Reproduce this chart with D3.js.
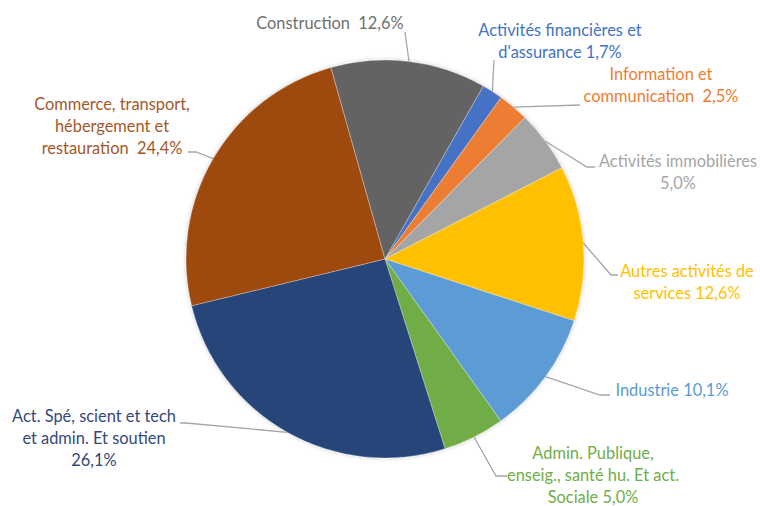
<!DOCTYPE html>
<html><head><meta charset="utf-8">
<script src="https://cdn.jsdelivr.net/npm/d3@7"></script>
<style>html,body{margin:0;padding:0;background:#fff;}svg{display:block;}</style>
</head><body>
<svg id="chart" width="760" height="506"></svg>
<script>
// ---- data ----
const categories = [
  "Activités financières et d'assurance",
  "Information et communication",
  "Activités immobilières",
  "Autres activités de services",
  "Industrie",
  "Admin. Publique, enseig., santé hu. Et act. Sociale",
  "Act. Spé, scient et tech et admin. Et soutien",
  "Commerce, transport, hébergement et restauration",
  "Construction"
];
const values = [1.7, 2.5, 5.0, 12.6, 10.1, 5.0, 26.1, 24.4, 12.6];
const labelLines = [
  ["Activités financières et", "d'assurance {v}"],
  ["Information et", "communication  {v}"],
  ["Activités immobilières", "{v}"],
  ["Autres activités de", "services {v}"],
  ["Industrie {v}"],
  ["Admin. Publique,", "enseig., santé hu. Et act.", "Sociale {v}"],
  ["Act. Spé, scient et tech", "et admin. Et soutien", "{v}"],
  ["Commerce, transport,", "hébergement et", "restauration  {v}"],
  ["Construction  {v}"]
];

// ---- styles / layout ----
const sliceColors = ["#4472C4","#ED7D31","#A5A5A5","#FFC000","#5B9BD5","#70AD47","#264478","#9E480E","#636363"];
const textColors  = ["#4472C4","#ED7D31","#A5A5A5","#FFC000","#5B9BD5","#70AD47","#34497A","#A4582A","#707070"];
// text: centre x, first baseline y ; leader: points after the pie-edge point
const labelLayout = [
  {x:560, y:36,  pts:[[494,60]]},
  {x:661, y:80,  pts:[[580,105]]},
  {x:678, y:167, pts:[[587,167],[595,167]]},
  {x:687, y:277, pts:[[611,275],[618,275]]},
  {x:672, y:396, pts:[[600,395],[610,395]]},
  {x:593, y:459, pts:[[496,476],[507,476]]},
  {x:94,  y:422, pts:[[186,423],[180,423]]},
  {x:112, y:110, pts:[[196,152],[188,152]]},
  {x:330, y:29,  pts:[[405,32]]}
];
const cx = 385, cy = 259, R = 199;
const startDeg = 29.6;
const lineH = 22;

const fmt = v => d3.format(".1f")(v).replace(".", ",") + "%";

const svg = d3.select("#chart");
const defs = svg.append("defs");
const f = defs.append("filter").attr("id","sh").attr("x","-10%").attr("y","-10%").attr("width","120%").attr("height","120%");
f.append("feDropShadow").attr("dx",0).attr("dy",0).attr("stdDeviation",2.2).attr("flood-color","#000").attr("flood-opacity",0.22);

const a0 = startDeg * Math.PI / 180;
const pie = d3.pie().sort(null).value(d => d).startAngle(a0).endAngle(a0 + 2*Math.PI);
const arcs = pie(values);
const arc = d3.arc().innerRadius(0).outerRadius(R);

const g = svg.append("g").attr("transform", `translate(${cx},${cy})`);
g.append("g").attr("filter","url(#sh)")
  .selectAll("path").data(arcs).join("path")
  .attr("d", arc)
  .attr("fill", (d,i) => sliceColors[i])
  .attr("stroke", "#ffffff").attr("stroke-width", 0.5).attr("stroke-opacity", 0.6);

// leader lines
const leaders = svg.append("g");
arcs.forEach((d,i) => {
  const m = (d.startAngle + d.endAngle)/2;
  const p0 = [cx + R*Math.sin(m), cy - R*Math.cos(m)];
  const pts = [p0].concat(labelLayout[i].pts);
  leaders.append("path")
    .attr("d", d3.line()(pts))
    .attr("fill","none").attr("stroke","#A6A6A6").attr("stroke-width",1.3);
});

// labels
const labels = svg.append("g")
  .attr("font-family", "Lato, 'Noto Sans', sans-serif")
  .attr("font-size", 16.4);
arcs.forEach((d,i) => {
  const L = labelLayout[i];
  const t = labels.append("text")
    .attr("text-anchor","middle")
    .attr("fill", textColors[i])
    .attr("xml:space","preserve")
    .style("white-space","pre");
  labelLines[i].forEach((ln, k) => {
    t.append("tspan").attr("x", L.x).attr("y", L.y + k*lineH)
      .text(ln.replace("{v}", fmt(values[i])));
  });
});
</script>
</body></html>
